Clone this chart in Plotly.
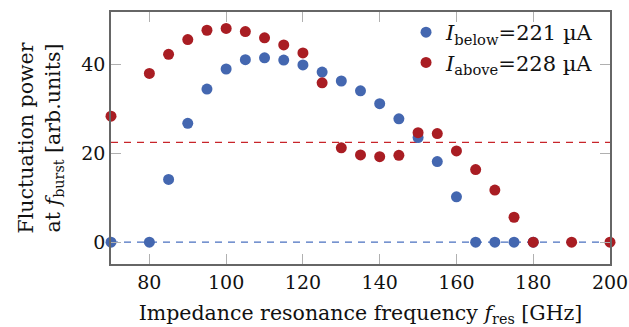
import plotly.graph_objects as go

freq_blue = [70, 80, 85, 90, 95, 100, 105, 110, 115, 120, 125, 130, 135, 140, 145, 150, 155, 160, 165, 170, 175, 180]
power_blue = [0, 0, 14.1, 26.7, 34.4, 38.9, 41.0, 41.4, 40.9, 39.8, 38.2, 36.2, 34.0, 31.1, 27.7, 23.5, 18.1, 10.2, 0, 0, 0, 0]

freq_red = [70, 80, 85, 90, 95, 100, 105, 110, 115, 120, 125, 130, 135, 140, 145, 150, 155, 160, 165, 170, 175, 180, 190, 200]
power_red = [28.3, 37.9, 42.2, 45.5, 47.6, 48.0, 47.3, 45.9, 44.3, 42.5, 35.8, 21.2, 19.6, 19.2, 19.5, 24.6, 24.4, 20.5, 16.3, 11.7, 5.6, 0, 0, 0]

blue_level = 0
red_level = 22.4

name_blue = "<i>I</i><sub>below</sub>=221 µA"
name_red = "<i>I</i><sub>above</sub>=228 µA"

x_ticks = [80, 100, 120, 140, 160, 180, 200]
y_ticks = [0, 20, 40]

BLUE = "#4467b0"
RED = "#a91d23"
FONT = "DejaVu Serif"

fig = go.Figure()
fig.add_hline(y=blue_level, line=dict(color="#4a70c0", width=1.2, dash="7px,6px"), layer="below")
fig.add_hline(y=red_level, line=dict(color="#c8242a", width=1.3, dash="7px,6px"), layer="below")

fig.add_trace(go.Scatter(x=freq_blue, y=power_blue, mode="markers", name=name_blue,
                         marker=dict(color=BLUE, size=11), cliponaxis=False))
fig.add_trace(go.Scatter(x=freq_red, y=power_red, mode="markers", name=name_red,
                         marker=dict(color=RED, size=11), cliponaxis=False))

axis_common = dict(showline=True, linecolor="#666666", linewidth=1.5, mirror="allticks",
                   ticks="inside", ticklen=10, tickcolor="#b0b0b0", tickwidth=1.2,
                   showgrid=False, zeroline=False, automargin=False,
                   tickfont=dict(family=FONT, size=19, color="#111"))

fig.update_xaxes(range=[70, 200], tickvals=x_ticks, **axis_common,
                 title=dict(text="Impedance resonance frequency <i>f</i><sub>res</sub> [GHz]",
                            font=dict(family=FONT, size=20.5, color="#111")))
fig.update_yaxes(range=[-4.9, 51.7], tickvals=y_ticks, **axis_common,
                 title=dict(text="Fluctuation power<br>at <i>f</i><sub>burst</sub> [arb.units]",
                            font=dict(family=FONT, size=20.5, color="#111")))

fig.update_layout(
    width=629, height=327,
    margin=dict(l=111, r=19, t=12, b=63),
    plot_bgcolor="white", paper_bgcolor="white",
    font=dict(family=FONT, size=19, color="#111"),
    legend=dict(x=0.978, y=1.0, xanchor="right", yanchor="top",
                bgcolor="rgba(0,0,0,0)", font=dict(family=FONT, size=21),
                itemwidth=30, tracegroupgap=0),
    showlegend=True,
)

fig.write_html("out.html")
